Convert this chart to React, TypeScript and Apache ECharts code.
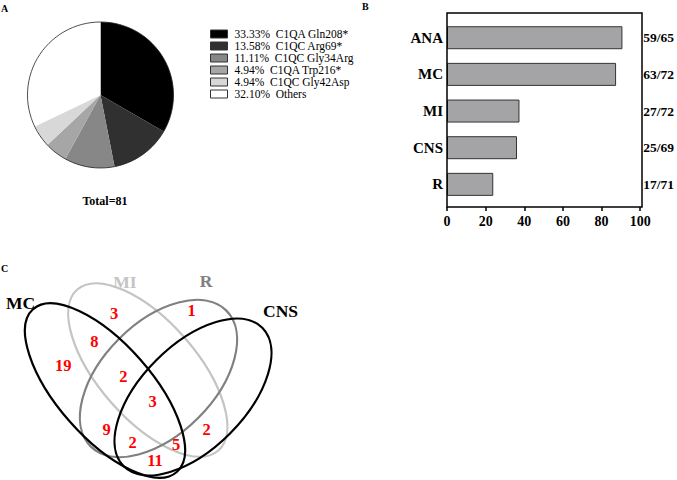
import React, { useEffect, useRef } from 'react';
import * as echarts from 'echarts';

// ---------- data ----------
const pieNames = ['C1QA Gln208*', 'C1QC Arg69*', 'C1QC Gly34Arg', 'C1QA Trp216*', 'C1QC Gly42Asp', 'Others'];
const piePercents = [33.33, 13.58, 11.11, 4.94, 4.94, 32.1];
const pieTotal = 81;

const barCategories = ['ANA', 'MC', 'MI', 'CNS', 'R'];
const barValues = [90.77, 87.5, 37.5, 36.23, 23.94];
const barFractions = ['59/65', '63/72', '27/72', '25/69', '17/71'];
const xMin = 0;
const xMax = 100;
const xStep = 20;

const vennSets = ['MC', 'MI', 'R', 'CNS'];
const vennCounts = [3, 1, 8, 19, 2, 3, 9, 2, 2, 5, 11];

// ---------- layout / styles ----------
const SERIF = 'Liberation Serif';
const pieColors = ['#000000', '#303030', '#878787', '#a6a6a6', '#d8d8d8', '#ffffff'];
const vennColors = ['#000000', '#c4c4c4', '#808080', '#000000'];
const vennEllipses = [
  { cx: 105, cy: 390.5, rx: 108.6, ry: 47, rot: -48.6 },
  { cx: 147.8, cy: 370, rx: 107, ry: 49, rot: -48.8 },
  { cx: 158.5, cy: 378.5, rx: 96, ry: 56, rot: 45 },
  { cx: 193, cy: 397, rx: 98, ry: 52, rot: 45 },
];
const vennDrawOrder = [1, 2, 0, 3];
const vennLabelPos = [
  [20.5, 302.5],
  [125, 281.5],
  [206, 281],
  [280.5, 311],
];
const vennCountPos = [
  [114, 313.3],
  [191.7, 310.7],
  [94.3, 341.7],
  [63.3, 365],
  [123.3, 376.7],
  [152.7, 401.7],
  [106.7, 429.3],
  [206.7, 429.3],
  [132.7, 442.7],
  [176, 444],
  [155, 460],
];

export default function App() {
  const ref = useRef<HTMLDivElement>(null);

  useEffect(() => {
    if (!ref.current) return;
    const chart = echarts.init(ref.current, undefined, { renderer: 'svg' });

    const graphics: any[] = [];
    const bold = (size: number) => ({ fontSize: size, fontWeight: 'bold', fontFamily: SERIF });
    graphics.push({ type: 'text', x: 1, y: 8, style: { text: 'A', ...bold(10), fill: '#000', verticalAlign: 'middle' } });
    graphics.push({ type: 'text', x: 362, y: 6, style: { text: 'B', ...bold(10), fill: '#000', verticalAlign: 'middle' } });
    graphics.push({ type: 'text', x: 1, y: 268, style: { text: 'C', ...bold(10), fill: '#000', verticalAlign: 'middle' } });
    graphics.push({ type: 'circle', shape: { cx: 100.5, cy: 95, r: 73 }, style: { fill: 'none', stroke: '#222', lineWidth: 0.8 }, silent: true, z: 10 });
    graphics.push({ type: 'text', x: 105, y: 201, style: { text: 'Total=' + pieTotal, ...bold(12), fill: '#000', align: 'center', verticalAlign: 'middle' } });
    graphics.push({ type: 'rect', shape: { x: 447, y: 13, width: 195, height: 194 }, style: { fill: 'none', stroke: '#000', lineWidth: 1.5 }, silent: true, z: 10 });
    vennDrawOrder.forEach((i) => {
      const e = vennEllipses[i];
      graphics.push({
        type: 'ellipse',
        x: e.cx,
        y: e.cy,
        rotation: (e.rot * Math.PI) / 180,
        shape: { cx: 0, cy: 0, rx: e.rx, ry: e.ry },
        style: { fill: 'none', stroke: vennColors[i], lineWidth: 2.2 },
        silent: true,
      });
    });
    vennSets.forEach((name, i) => {
      graphics.push({
        type: 'text',
        x: vennLabelPos[i][0],
        y: vennLabelPos[i][1],
        style: { text: name, ...bold(17.5), fill: vennColors[i], align: 'center', verticalAlign: 'middle' },
      });
    });
    vennCounts.forEach((n, i) => {
      graphics.push({
        type: 'text',
        x: vennCountPos[i][0],
        y: vennCountPos[i][1],
        z: 20,
        style: { text: String(n), ...bold(16.5), fill: '#ff0000', align: 'center', verticalAlign: 'middle' },
      });
    });

    chart.setOption({
      animation: false,
      backgroundColor: '#ffffff',
      legend: {
        orient: 'vertical',
        left: 205,
        top: 23,
        itemWidth: 17,
        itemHeight: 8,
        itemGap: 0,
        icon: 'rect',
        selectedMode: false,
        data: pieNames,
        itemStyle: { borderColor: '#333', borderWidth: 1 },
        textStyle: { fontFamily: SERIF, fontSize: 11.5, color: '#000', lineHeight: 11.4, padding: [0, 0, 0, 2] },
        formatter: (name: string) => {
          const i = pieNames.indexOf(name);
          return piePercents[i].toFixed(2) + '%  ' + name;
        },
      },
      grid: { left: 447, width: 195, top: 19.4, height: 183.3, containLabel: false },
      xAxis: {
        type: 'value',
        min: xMin,
        max: xMax,
        interval: xStep,
        offset: 4.3,
        axisLine: { show: false },
        axisTick: { show: true, length: 4, lineStyle: { color: '#000', width: 1.5 } },
        splitLine: { show: false },
        axisLabel: { fontFamily: SERIF, fontWeight: 'bold', fontSize: 14, color: '#000', margin: 7 },
      },
      yAxis: [
        {
          type: 'category',
          data: barCategories,
          inverse: true,
          axisLine: { show: false },
          axisTick: { show: false },
          axisLabel: { fontFamily: SERIF, fontWeight: 'bold', fontSize: 15, color: '#000', margin: 4 },
        },
        {
          type: 'category',
          data: barFractions,
          inverse: true,
          position: 'right',
          axisLine: { show: false },
          axisTick: { show: false },
          axisLabel: { fontFamily: SERIF, fontWeight: 'bold', fontSize: 13.5, color: '#000', margin: 3 },
        },
      ],
      series: [
        {
          type: 'pie',
          center: [100.5, 95],
          radius: 73,
          startAngle: 90,
          clockwise: true,
          silent: true,
          label: { show: false },
          labelLine: { show: false },
          itemStyle: { borderWidth: 0 },
          data: pieNames.map((n, i) => ({ name: n, value: piePercents[i], itemStyle: { color: pieColors[i] } })),
        },
        {
          type: 'bar',
          xAxisIndex: 0,
          yAxisIndex: 0,
          data: barValues,
          barWidth: 23,
          silent: true,
          itemStyle: { color: '#a4a4a6', borderColor: '#333', borderWidth: 1 },
        },
      ],
      graphic: graphics,
    });

    return () => chart.dispose();
  }, []);

  return (
    <div
      ref={ref}
      style={{ position: 'fixed', left: 0, top: 0, width: 677, height: 480, background: '#fff' }}
    />
  );
}
